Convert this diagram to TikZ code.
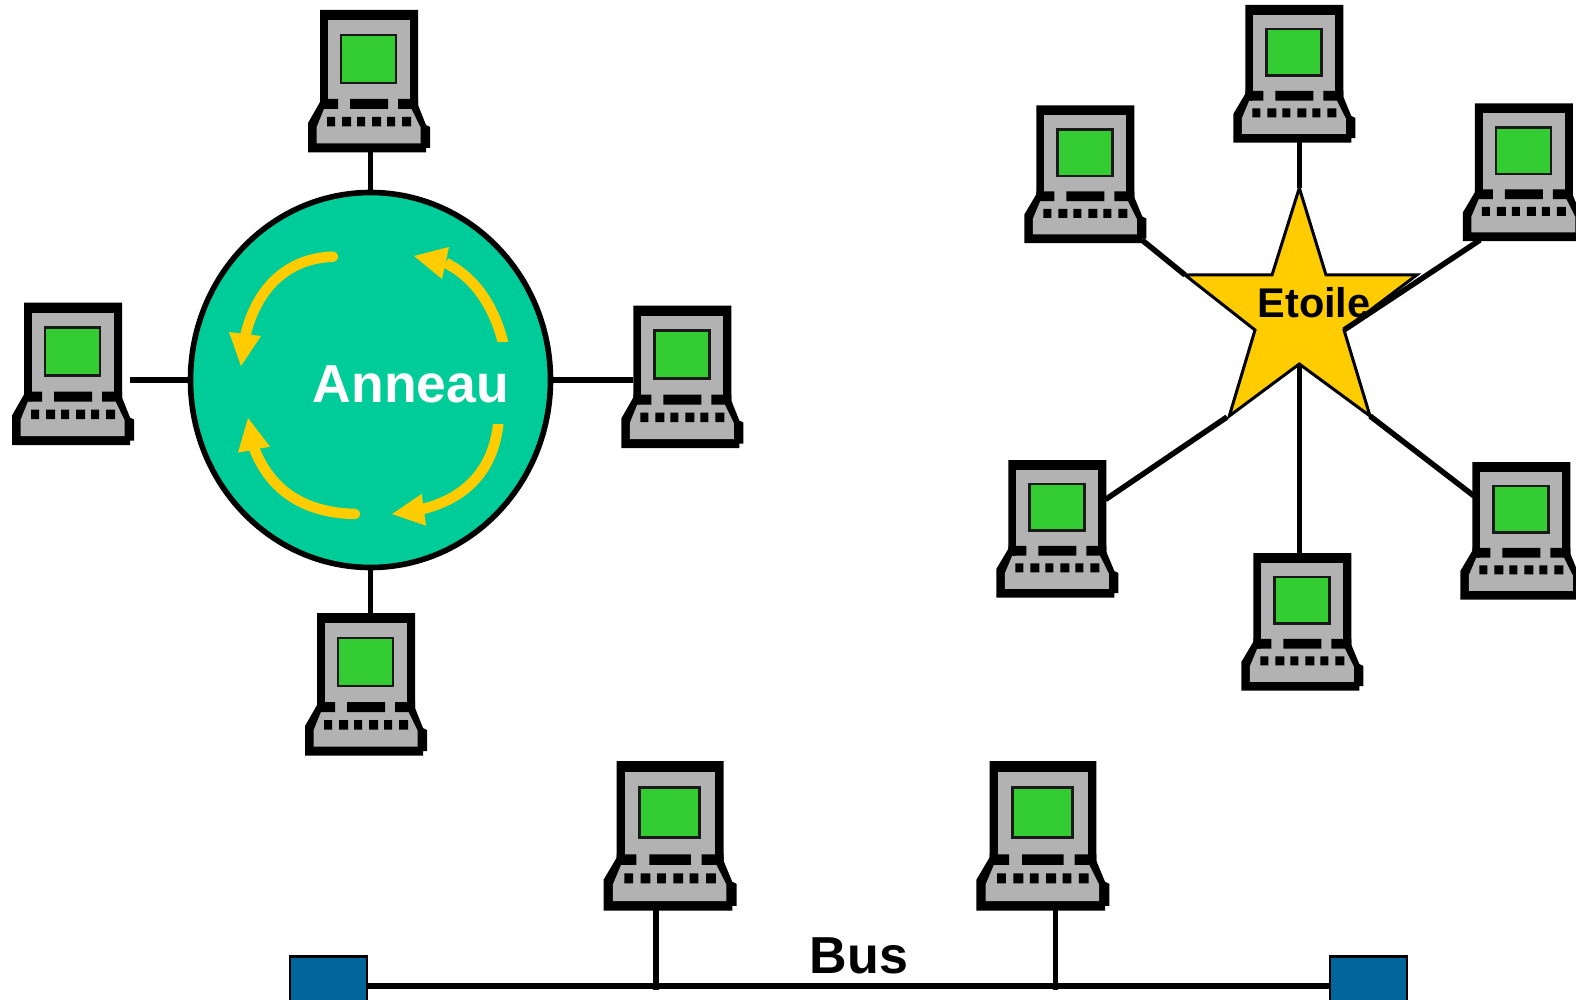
\documentclass[tikz,border=0pt]{standalone}
\usepackage{fontspec}
\setmainfont{Liberation Sans}
\usetikzlibrary{shapes.geometric,arrows.meta}
\definecolor{compgray}{HTML}{B2B2B2}
\definecolor{scrgreen}{HTML}{33CC33}
\definecolor{ringgreen}{HTML}{00CC99}
\definecolor{signyellow}{HTML}{FFCC00}
\definecolor{busblue}{HTML}{006699}
\tikzset{
  computer/.pic={
    \fill[black] (0,0) -- (98,0) -- (98,95) -- (106,115) -- (110,117) -- (110,138) -- (106,138) -- (106,142.5) -- (-12,142.5) -- (-12,113) -- (0,92) -- cycle;
    \fill[compgray] (8,10) rectangle (90,100);
    \fill[compgray] (4,99) -- (-3.5,117.5) -- (-3.5,133.5) -- (100.5,133.5) -- (100.5,117.5) -- (91,98) -- cycle;
    \fill[black] (0,89) rectangle (18,99) (30,89) rectangle (68,99) (78,89) rectangle (98,99);
    \fill[black] (7,107) rectangle (15,116.5) (22,107) rectangle (31,116.5) (37,107) rectangle (45,116.5)
                 (52,107) rectangle (61,116.5) (67,107) rectangle (75,116.5) (82,107) rectangle (91,116.5);
    \draw[fill=scrgreen,draw=black!90,line width=2.6pt] (21,25) rectangle (76,73);
    \coordinate (-s) at (49,142);
    \coordinate (-n) at (49,0);
    \coordinate (-w) at (0,75);
  },
  starcomp/.style={yscale=0.965},
  buscomp/.style={xscale=1.09,yscale=1.05},
  wire/.style={line width=5.5pt,black},
  buswire/.style={line width=6pt,black},
  ringarc/.style={line width=10.5pt,signyellow},
  headfill/.style={fill=signyellow,draw=none},
  hub/.style={draw=black,line width=2.6pt,fill=busblue,minimum width=77pt,minimum height=50pt,inner sep=0pt,anchor=north west},
  label/.style={font=\bfseries,anchor=base,inner sep=0pt},
}
\begin{document}
\begin{tikzpicture}[x=1pt,y=-1pt]
\useasboundingbox (0,0) rectangle (1576,1000);
\clip (0,0) rectangle (1576,1000);

% ---- Ring
\node[ellipse,draw=black,line width=5.6pt,fill=ringgreen,minimum width=360pt,minimum height=375pt,inner sep=0pt] (ring) at (370.5,380) {};
\pic (rt) at (320,10) {computer};
\pic (rl) at (24,302.5) {computer};
\pic (rr) at (633.3,305.5) {computer};
\pic (rb) at (317,613) {computer};
\coordinate (rlend) at (130,380);
\draw[wire] (ring.north) -- (ring.north |- rt-s);
\draw[wire] (ring.west) -- (rlend);
\draw[wire] (ring.east) -- (ring.east -| rr-w);
\draw[wire] (ring.south) -- (ring.south |- rb-n);

\begin{scope}
  \clip (400,230) rectangle (520,341);
  \draw[ringarc] (505,351) .. controls (497,312) and (478,279) .. (445.7,263);
\end{scope}
\fill[headfill] (449,247) -- (414,256) -- (442,279) -- cycle;
\draw[ringarc,line cap=round] (333,256.7) .. controls (290,258) and (258,285) .. (245.7,334);
\fill[headfill] (229,332) -- (241,366) -- (261,336) -- cycle;
\begin{scope}
  \clip (400,424) rectangle (520,540);
  \draw[ringarc] (499,414) .. controls (497,465) and (470,497) .. (423,509);
\end{scope}
\fill[headfill] (421.7,494) -- (392,514) -- (426,525.7) -- cycle;
\draw[ringarc,line cap=round] (355,514) .. controls (310,513) and (272,495) .. (254,448);
\fill[headfill] (238,452.7) -- (248,418) -- (270,446.7) -- cycle;
\node[label,text=white,font=\bfseries\fontsize{53.5}{60}\selectfont] (anneau) at (411,402) {Anneau};

% ---- Star
\pic[starcomp] (st) at (1245.3,5) {computer};
\pic[starcomp] (sul) at (1036.3,105.5) {computer};
\pic[starcomp] (sur) at (1474.8,103.5) {computer};
\pic[starcomp] (sll) at (1008.3,460) {computer};
\pic[starcomp] (slr) at (1472.3,462) {computer};
\pic[starcomp] (sb) at (1253.3,553) {computer};
\coordinate (tipT) at (1299.3,188);
\coordinate (tipR) at (1416.7,275);
\coordinate (tipL) at (1185,275);
\coordinate (tipLL) at (1227,417);
\coordinate (tipLR) at (1370,416);
\coordinate (innR) at (1344,330);
\coordinate (innB) at (1299.3,364);
\coordinate (culend) at (1142,240);
\coordinate (curend) at (1480,240);
\coordinate (cllend) at (1105.5,499.5);
\coordinate (clrend) at (1474,496);
\filldraw[fill=signyellow,draw=black,line width=3pt,line join=miter]
  (tipT) -- (1326,275) -- (tipR) -- (innR) -- (tipLR) -- (innB) -- (1229.3,416) -- (1255,330) -- (tipL) -- (1272,275) -- cycle;
\node[label,font=\bfseries\fontsize{41.5}{48}\selectfont] (etoile) at (1314,317.7) {Etoile};
\draw[wire] (tipT) -- (tipT |- st-s);
\draw[wire] (culend) -- (tipL);
\draw[wire] (curend) -- (innR);
\draw[wire] (cllend) -- (tipLL);
\draw[wire] (clrend) -- (tipLR);
\draw[wire] (innB) -- (innB |- sb-n);

% ---- Bus
\node[hub] (hl) at (288.5,955.3) {};
\node[hub] (hr) at (1328.7,955.3) {};
\pic[buscomp] (b1) at (616.7,761) {computer};
\pic[buscomp] (b2) at (989.5,761) {computer};
\coordinate (b1x) at (656,990);
\coordinate (b2x) at (1055.5,990);
\coordinate (busl) at (366,986);
\coordinate (busr) at (1330,986);
\draw[buswire] (busl) -- (busr);
\draw[wire] (b1x |- b1-s) -- (b1x);
\draw[wire] (b2x |- b2-s) -- (b2x);
\node[label,font=\bfseries\fontsize{52}{60}\selectfont] (bus) at (859,973) {Bus};
\end{tikzpicture}
\end{document}
